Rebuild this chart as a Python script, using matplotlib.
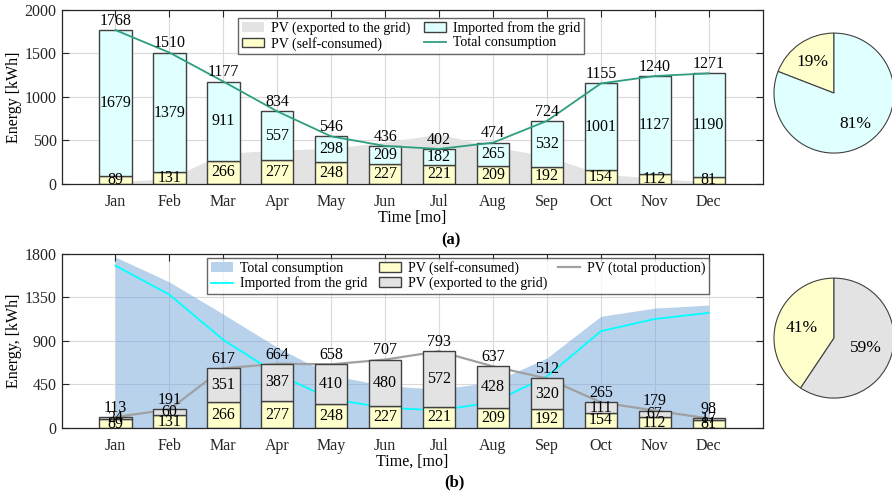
import numpy as np
import matplotlib
matplotlib.use("Agg")
import matplotlib.pyplot as plt
from matplotlib.patches import Patch
from matplotlib.lines import Line2D

# Monthly energy balance of a PV-equipped household [kWh]
months = ["Jan", "Feb", "Mar", "Apr", "May", "Jun",
          "Jul", "Aug", "Sep", "Oct", "Nov", "Dec"]
pv_self_consumed = [89, 131, 266, 277, 248, 227, 221, 209, 192, 154, 112, 81]
grid_imported = [1679, 1379, 911, 557, 298, 209, 182, 265, 532, 1001, 1127, 1190]
total_consumption = [1768, 1510, 1177, 834, 546, 436, 402, 474, 724, 1155, 1240, 1271]
pv_exported = [24, 60, 351, 387, 410, 480, 572, 428, 320, 111, 67, 17]
pv_total = [113, 191, 617, 664, 658, 707, 793, 637, 512, 265, 179, 98]

plt.rcParams["font.family"] = ["Liberation Serif", "DejaVu Serif"]
plt.rcParams["font.size"] = 11.5

C_YELLOW = "#ffffcc"
C_LCYAN = "#e0ffff"
C_LGRAY = "#e3e3e3"
C_EDGE = "#404040"
C_TEAL = "#2e9e80"
C_CYAN = "#00ffff"
C_GRAYLINE = "#a0a0a0"
C_BLUE = (0.45, 0.65, 0.86)

x = np.arange(1, len(months) + 1)
w = 0.6

fig = plt.figure(figsize=(8.92, 4.97), dpi=100)


def style_axes(ax, ymax, ystep):
    ax.set_xlim(0, 13)
    ax.set_ylim(0, ymax)
    ax.set_xticks(x)
    ax.set_xticklabels(months)
    ax.set_yticks(np.arange(0, ymax + 1, ystep))
    ax.tick_params(direction="in", top=True, right=True, length=5,
                   width=0.8, colors="#262626", labelcolor="#262626")
    ax.tick_params(axis="x", pad=7)
    ax.grid(True, color="#d9d9d9", linewidth=0.8)
    ax.set_axisbelow(True)
    for s in ax.spines.values():
        s.set_color("#262626")
        s.set_linewidth(0.9)


def style_pie(ax):
    ax.set_xlim(-1.0, 1.0)
    ax.set_ylim(-1.0, 1.0)
    ax.set_aspect("equal")
    ax.axis("off")


# ---------- (a) consumption coverage ----------
ax1 = fig.add_axes([0.069, 0.630, 0.786, 0.350])
style_axes(ax1, 2000, 500)
ax1.fill_between(x, 0, pv_exported, color=C_LGRAY, linewidth=0, zorder=1)
ax1.bar(x, pv_self_consumed, w, color=C_YELLOW, edgecolor=C_EDGE, linewidth=1, zorder=2)
ax1.bar(x, grid_imported, w, bottom=pv_self_consumed, color=C_LCYAN,
        edgecolor=C_EDGE, linewidth=1, zorder=2)
ax1.plot(x, total_consumption, color=C_TEAL, linewidth=1.3, zorder=3)
for xi, s, g, t in zip(x, pv_self_consumed, grid_imported, total_consumption):
    ax1.text(xi, s / 2, f"{s}", ha="center", va="center", zorder=4)
    ax1.text(xi, s + g / 2, f"{g}", ha="center", va="center", zorder=4)
    ax1.text(xi, s + g + 15, f"{t}", ha="center", va="bottom", zorder=4)
ax1.set_ylabel("Energy [kWh]", labelpad=2)
ax1.set_xlabel("Time [mo]", labelpad=0)
h1 = [Patch(facecolor=C_LGRAY, edgecolor="none"),
      Patch(facecolor=C_YELLOW, edgecolor=C_EDGE),
      Patch(facecolor=C_LCYAN, edgecolor=C_EDGE),
      Line2D([], [], color=C_TEAL, linewidth=1.3)]
l1 = ["PV (exported to the grid)", "PV (self-consumed)",
      "Imported from the grid", "Total consumption"]
leg1 = ax1.legend(h1, l1, ncol=2, loc="upper left", bbox_to_anchor=(0.252, 0.955),
                  fontsize=10, frameon=True, fancybox=False, edgecolor="#404040",
                  borderpad=0.25, labelspacing=0.1, handlelength=1.6,
                  handletextpad=0.5, columnspacing=1.0, borderaxespad=0)
leg1.get_frame().set_linewidth(1.0)
fig.text(0.506, 0.516, "(a)", ha="center", va="center", fontsize=12, fontweight="bold")

pie1 = fig.add_axes([0.8677, 0.692, 0.1345, 0.2414])
pie1.pie([sum(pv_self_consumed), sum(grid_imported)], colors=[C_YELLOW, C_LCYAN],
         startangle=90, counterclock=True, autopct=lambda p: f"{p:.0f}%",
         pctdistance=0.62, textprops={"fontsize": 12.5},
         wedgeprops={"edgecolor": "#404040", "linewidth": 0.8})
style_pie(pie1)

# ---------- (b) PV production usage ----------
ax2 = fig.add_axes([0.069, 0.139, 0.786, 0.350])
style_axes(ax2, 1800, 450)
ax2.fill_between(x, 0, total_consumption, color=C_BLUE, alpha=0.5, linewidth=0, zorder=1)
ax2.plot(x, grid_imported, color=C_CYAN, linewidth=1.3, zorder=1.5)
ax2.plot(x, pv_total, color=C_GRAYLINE, linewidth=1.6, zorder=1.6)
ax2.bar(x, pv_self_consumed, w, color=C_YELLOW, edgecolor=C_EDGE, linewidth=1, zorder=2)
ax2.bar(x, pv_exported, w, bottom=pv_self_consumed, color=C_LGRAY,
        edgecolor=C_EDGE, linewidth=1, zorder=2)
for xi, s, e, t in zip(x, pv_self_consumed, pv_exported, pv_total):
    ax2.text(xi, s / 2, f"{s}", ha="center", va="center", zorder=4)
    ax2.text(xi, s + e / 2, f"{e}", ha="center", va="center", zorder=4)
    ax2.text(xi, s + e + 12, f"{t}", ha="center", va="bottom", zorder=4)
ax2.set_ylabel("Energy, [kWh]", labelpad=2)
ax2.set_xlabel("Time, [mo]", labelpad=0)
h2 = [Patch(facecolor=C_BLUE, alpha=0.5, edgecolor="none"),
      Line2D([], [], color=C_CYAN, linewidth=1.3),
      Patch(facecolor=C_YELLOW, edgecolor=C_EDGE),
      Patch(facecolor=C_LGRAY, edgecolor=C_EDGE),
      Line2D([], [], color=C_GRAYLINE, linewidth=1.6)]
l2 = ["Total consumption", "Imported from the grid", "PV (self-consumed)",
      "PV (exported to the grid)", "PV (total production)"]
leg2 = ax2.legend(h2, l2, ncol=3, loc="upper left", bbox_to_anchor=(0.208, 0.977),
                  fontsize=10, frameon=True, fancybox=False, edgecolor="#404040",
                  borderpad=0.25, labelspacing=0.1, handlelength=1.6,
                  handletextpad=0.5, columnspacing=0.8, borderaxespad=0)
leg2.get_frame().set_linewidth(1.0)
fig.text(0.51, 0.030, "(b)", ha="center", va="center", fontsize=12, fontweight="bold")

pie2 = fig.add_axes([0.8677, 0.199, 0.1345, 0.2414])
pie2.pie([sum(pv_self_consumed), sum(pv_exported)], colors=[C_YELLOW, C_LGRAY],
         startangle=90, counterclock=True, autopct=lambda p: f"{p:.0f}%",
         pctdistance=0.56, textprops={"fontsize": 12.5},
         wedgeprops={"edgecolor": "#404040", "linewidth": 0.8})
style_pie(pie2)

fig.savefig("out.png", dpi=100)
